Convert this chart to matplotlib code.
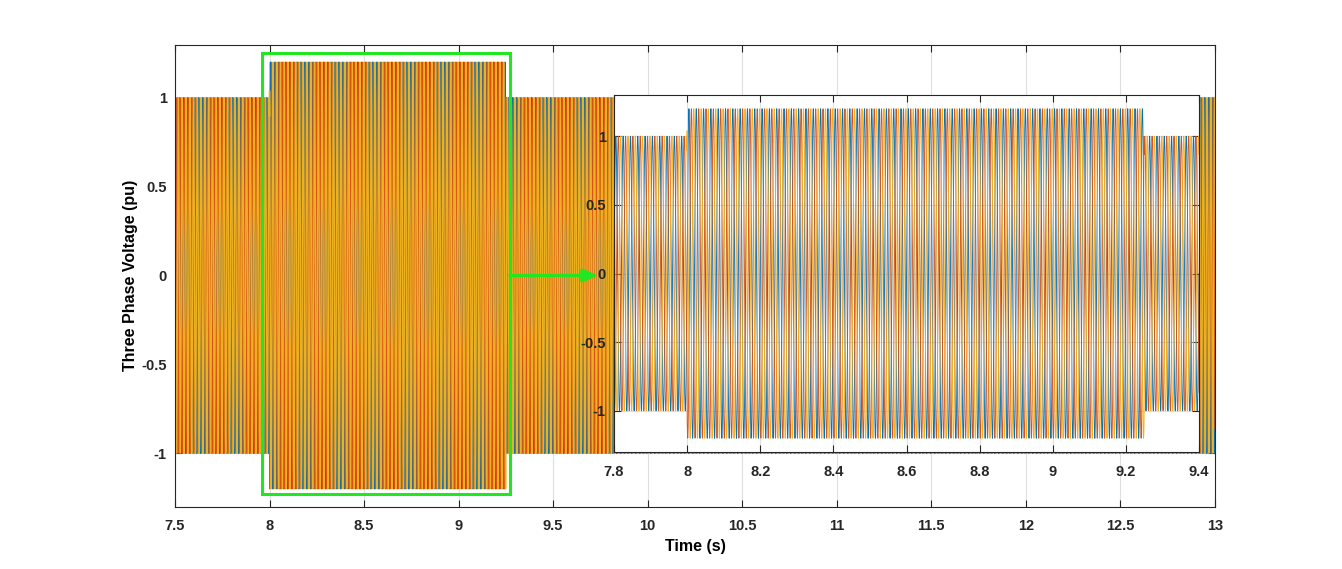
import numpy as np
import matplotlib
matplotlib.use("Agg")
import matplotlib.pyplot as plt
from matplotlib.patches import Rectangle

# waveform description
seg_times = [7.5, 8.0, 9.25, 13.0]      # s, segment edges
seg_amp = [1.0, 1.2, 1.0]                # pu, peak per segment (swell in the middle)
freq = 50.0                              # Hz
phase_deg = [0.0, -120.0, 120.0]         # phase A, B, C
phase_colors = ["#0072bd", "#d95319", "#edb120"]
fs = 5000.0                              # sample rate of the logged signal

main_xticks = [7.5, 8, 8.5, 9, 9.5, 10, 10.5, 11, 11.5, 12, 12.5, 13]
main_xticklabels = ["7.5", "8", "8.5", "9", "9.5", "10", "10.5", "11", "11.5", "12", "12.5", "13"]
inset_xticks = [7.8, 8, 8.2, 8.4, 8.6, 8.8, 9, 9.2, 9.4]
inset_xticklabels = ["7.8", "8", "8.2", "8.4", "8.6", "8.8", "9", "9.2", "9.4"]
yticks = [-1, -0.5, 0, 0.5, 1]
yticklabels = ["-1", "-0.5", "0", "0.5", "1"]

zoom_box = [7.96, 9.27, -1.23, 1.25]     # green rectangle x0, x1, y0, y1
arrow_to = 9.737

t = np.arange(seg_times[0], seg_times[-1] + 0.5 / fs, 1.0 / fs)
amp = np.full_like(t, seg_amp[-1])
for i in range(len(seg_amp)):
    amp[(t >= seg_times[i]) & (t < seg_times[i + 1])] = seg_amp[i]
volts = [amp * np.sin(2 * np.pi * freq * t + np.deg2rad(p)) for p in phase_deg]

plt.rcParams['font.family'] = ['Liberation Sans', 'DejaVu Sans']
plt.rcParams['font.weight'] = 'bold'

W, H = 1342, 569
fig = plt.figure(figsize=(W / 100, H / 100), dpi=100)

def style(ax):
    for s in ax.spines.values():
        s.set_color("#262626")
        s.set_linewidth(0.8)
    ax.tick_params(direction="in", length=5, width=0.8, colors="#262626",
                   top=True, right=True, labelsize=10.5, pad=9)
    ax.tick_params(axis="y", pad=6)
    ax.grid(True, color="#dfdfdf", linewidth=0.8)
    for lab in ax.get_xticklabels() + ax.get_yticklabels():
        lab.set_fontweight("bold")

# main axes
ax = fig.add_axes([175 / W, 1 - 506.5 / H, 1040 / W, 462 / H])
for k in range(3):
    ax.plot(t, volts[k], color=phase_colors[k], linewidth=1.0)
ax.set_xlim(7.5, 13)
ax.set_ylim(-1.3, 1.3)
ax.set_xticks(main_xticks)
ax.set_xticklabels(main_xticklabels)
ax.set_yticks(yticks)
ax.set_yticklabels(yticklabels)
style(ax)
ax.set_xlabel("Time (s)", fontsize=11.5, fontweight="bold", labelpad=4)
ax.set_ylabel("Three Phase Voltage (pu)", fontsize=11.5, fontweight="bold", labelpad=2)

x0, x1, y0, y1 = zoom_box
ax.add_patch(Rectangle((x0, y0), x1 - x0, y1 - y0, fill=False,
                       edgecolor="#22e622", linewidth=2.2, zorder=5))
ax.annotate("", xy=(arrow_to, 0), xytext=(x1, 0),
            arrowprops=dict(arrowstyle="-|>,head_length=0.9,head_width=0.4",
                            color="#22e622", linewidth=2.2, shrinkA=0, shrinkB=0),
            zorder=6)

# inset
axi = fig.add_axes([614 / W, 1 - 452 / H, 585 / W, 357 / H])
for k in range(3):
    axi.plot(t, volts[k], color=phase_colors[k], linewidth=0.65)
axi.set_xlim(7.8, 9.4)
axi.set_ylim(-1.3, 1.3)
axi.set_xticks(inset_xticks)
axi.set_xticklabels(inset_xticklabels)
axi.set_yticks(yticks)
axi.set_yticklabels(yticklabels)
style(axi)

fig.savefig("out.png", dpi=100)
